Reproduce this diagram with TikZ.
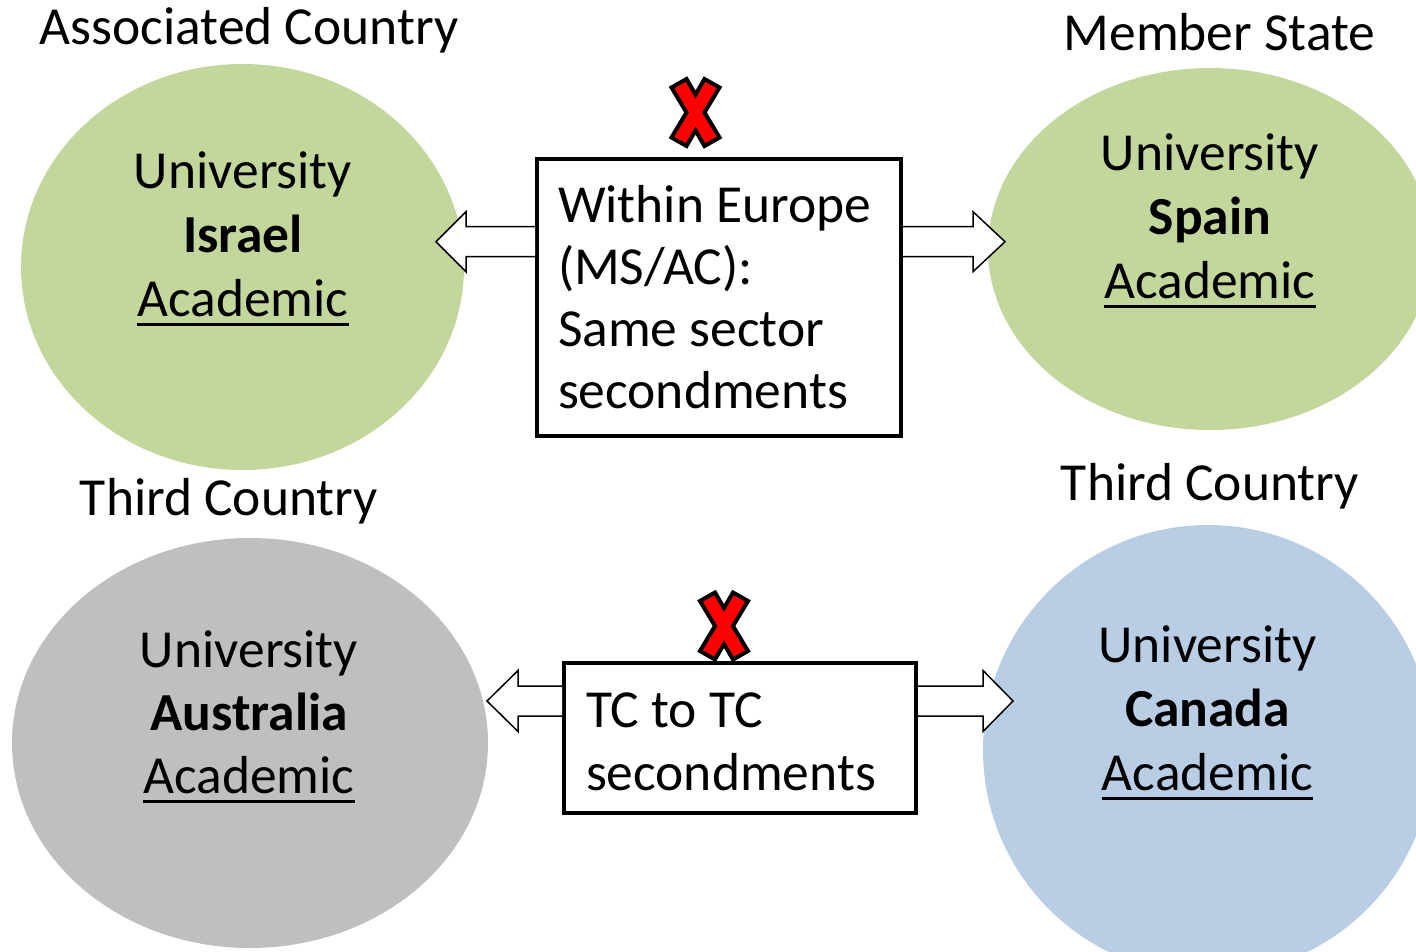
\documentclass[tikz,border=0pt]{standalone}
\usepackage{fontspec}
\setmainfont{Carlito}
\usetikzlibrary{calc,shapes.geometric}
\definecolor{ellgreen}{HTML}{C3D69B}
\definecolor{ellgray}{HTML}{BFBFBF}
\definecolor{ellblue}{HTML}{B9CDE5}
\definecolor{xred}{HTML}{FF0000}
\newcommand\myul[1]{\setbox0\hbox{#1}\rlap{\rule[-9.5pt]{\wd0}{3pt}}\box0}
\begin{document}
\begin{tikzpicture}[x=1pt,y=-1pt,
  every node/.style={inner sep=0pt, outer sep=0pt},
  ell/.style={ellipse, draw=none},
  big/.style={font=\fontsize{53.5}{64}\selectfont},
  lbl/.style={big, anchor=base},
  boxst/.style={rectangle, draw, line width=4pt, fill=white},
  barrow/.style={draw, line width=1.5pt, fill=white, line join=miter},
  xmark/.style={draw, line width=4pt, fill=xred, line join=miter}
]
\useasboundingbox (0,0) rectangle (1416,951);
\clip (0,0) rectangle (1416,951);

% ellipses
\node[ell, fill=ellgreen, minimum width=443, minimum height=406] (israel) at (242.5,267) {};
\node[ell, fill=ellgreen, minimum width=444, minimum height=362] (spain) at (1210,249) {};
\node[ell, fill=ellgray, minimum width=476, minimum height=410] (australia) at (250,743) {};
\node[ell, fill=ellblue, minimum width=450, minimum height=450] (canada) at (1208,750) {};

% boxes
\node[boxst, minimum width=364, minimum height=277] (box1) at (719,297.5) {};
\node[boxst, minimum width=352, minimum height=150] (box2) at (740,738) {};

% block arrows (top)
\coordinate (a1) at (436,241.7);
\coordinate (a2) at (1005,241.7);
\path (box1.west |- a1) coordinate (b1);
\path (box1.east |- a2) coordinate (b2);
\draw[barrow] ($(b1)+(-2,-15)$) -- ($(a1)+(30,-15)$) -- ($(a1)+(30,-30)$) -- (a1)
  -- ($(a1)+(30,30)$) -- ($(a1)+(30,15)$) -- ($(b1)+(-2,15)$);
\draw[barrow] ($(b2)+(2,-15)$) -- ($(a2)+(-32,-15)$) -- ($(a2)+(-32,-30)$) -- (a2)
  -- ($(a2)+(-32,30)$) -- ($(a2)+(-32,15)$) -- ($(b2)+(2,15)$);

% block arrows (bottom)
\coordinate (a3) at (487,701);
\coordinate (a4) at (1013,701);
\path (box2.west |- a3) coordinate (b3);
\path (box2.east |- a4) coordinate (b4);
\draw[barrow] ($(b3)+(-2,-15)$) -- ($(a3)+(31,-15)$) -- ($(a3)+(31,-30.5)$) -- (a3)
  -- ($(a3)+(31,30.5)$) -- ($(a3)+(31,15)$) -- ($(b3)+(-2,15)$);
\draw[barrow] ($(b4)+(2,-15)$) -- ($(a4)+(-30,-15)$) -- ($(a4)+(-30,-30.5)$) -- (a4)
  -- ($(a4)+(-30,30.5)$) -- ($(a4)+(-30,15)$) -- ($(b4)+(2,15)$);

% red X marks
\coordinate (x1) at (695.5,112.5);
\coordinate (x2) at (724,626);
\foreach \c in {x1,x2}{
  \draw[xmark, shift={(\c)}] (-24,-25) -- (-9,-33.5) -- (0,-18) -- (9,-33.5) -- (24,-25)
    -- (9,0) -- (24,25) -- (9,33.5) -- (0,18) -- (-9,33.5) -- (-24,25) -- (-9,0) -- cycle;
}

% country labels
\node[lbl] (lAC) at (249,44) {Associated Country};
\node[lbl] (lMS) at (1219.5,50) {Member State};
\node[lbl] (lTC1) at (229,515) {Third Country};
\node[lbl] (lTC2) at (1210,500) {Third Country};

% ellipse texts
\node[lbl] (tIsrael) at (243,188) {\begin{tabular}[t]{@{}c@{}}University\\ \textbf{Israel}\\ \myul{Academic}\end{tabular}};
\node[lbl] (tSpain) at (1210,170) {\begin{tabular}[t]{@{}c@{}}University\\ \textbf{Spain}\\ \myul{Academic}\end{tabular}};
\node[anchor=base, font=\fontsize{53.5}{63}\selectfont] (tAustralia) at (249,667) {\begin{tabular}[t]{@{}c@{}}University\\ \textbf{Australia}\\ \myul{Academic}\end{tabular}};
\node[lbl] (tCanada) at (1207.5,662) {\begin{tabular}[t]{@{}c@{}}University\\ \textbf{Canada}\\ \myul{Academic}\end{tabular}};

% box texts
\node[anchor=base west, font=\fontsize{53.5}{62}\selectfont] (tBox1) at (558,222) {\begin{tabular}[t]{@{}l@{}}Within Europe\\ (MS/AC):\\ Same sector\\ secondments\end{tabular}};
\node[anchor=base west, font=\fontsize{53.5}{63}\selectfont] (tBox2) at (586,727) {\begin{tabular}[t]{@{}l@{}}TC to TC\\ secondments\end{tabular}};
\end{tikzpicture}
\end{document}
